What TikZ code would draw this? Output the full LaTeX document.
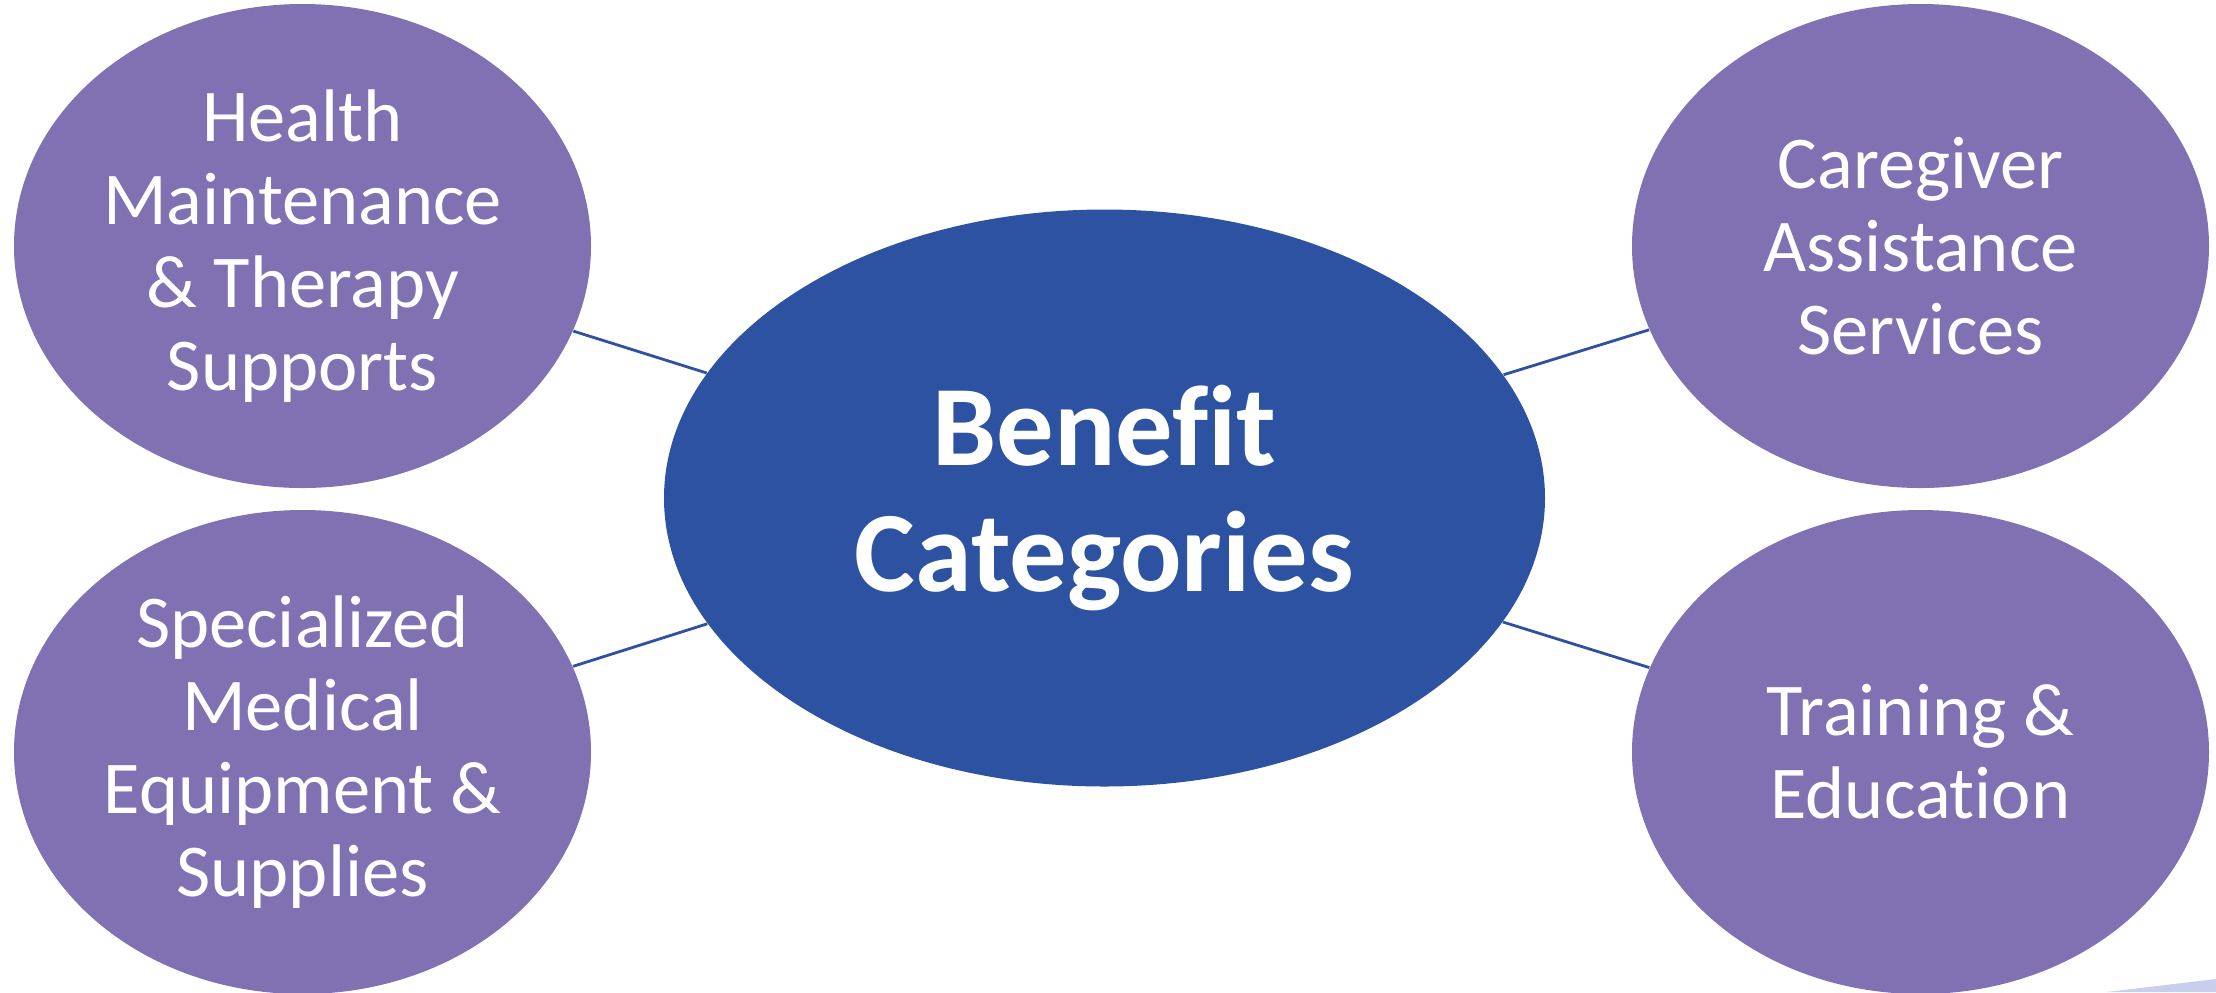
\documentclass[tikz,border=0pt]{standalone}
\usepackage{fontspec}
\setmainfont{Carlito}[Ligatures=NoCommon]
\usepackage{tikz}
\usetikzlibrary{shapes.geometric}
\definecolor{hubblue}{RGB}{45,82,162}
\definecolor{leafpurple}{RGB}{127,113,178}
\definecolor{cornerblue}{RGB}{200,207,236}
\tikzstyle{leafblock} = [ellipse, fill=leafpurple, text=white, inner sep=0, minimum width=5.77cm, minimum height=4.84cm, align=center, font=\fontsize{21.2pt}{23.6pt}\selectfont]
\tikzstyle{hubblock} = [ellipse, fill=hubblue, text=white, inner sep=0, minimum width=8.81cm, minimum height=5.77cm, align=center, font=\fontsize{32.6pt}{36pt}\selectfont\bfseries]
\tikzstyle{link} = [draw=hubblue, line width=0.8pt]

\begin{document}
\begin{tikzpicture}
      \useasboundingbox (0, 0) rectangle (22.16, -9.92);
      \fill[cornerblue] (21.07, -9.92) -- (22.16, -9.79) -- (22.16, -9.92) -- cycle;

      \node[hubblock] (hub) at (11.045, -4.98) {Benefit\\Categories};
      \node[leafblock] (health) at (3.025, -2.46) {Health\\Maintenance\\\& Therapy\\Supports};
      \node[leafblock] (equip) at (3.025, -7.52) {Specialized\\Medical\\Equipment \&\\Supplies};
      \node[leafblock] (care) at (19.205, -2.46) {Caregiver\\Assistance\\Services};
      \node[leafblock] (train) at (19.205, -7.52) {Training \&\\Education};

      \draw[link] (hub) -- (health);
      \draw[link] (hub) -- (equip);
      \draw[link] (hub) -- (care);
      \draw[link] (hub) -- (train);
    \end{tikzpicture}
\end{document}
